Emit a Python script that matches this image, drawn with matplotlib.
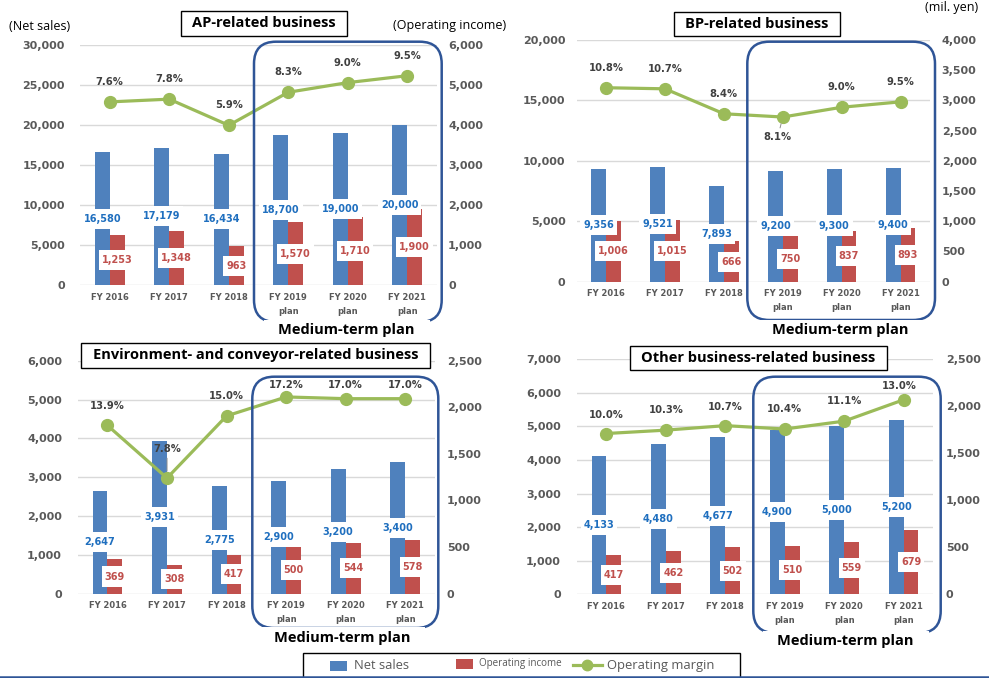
import matplotlib
matplotlib.use("Agg")
import matplotlib.pyplot as plt
from matplotlib.patches import FancyBboxPatch, Rectangle
from matplotlib.lines import Line2D
from matplotlib.path import Path
import numpy as np

# ---------------- data ----------------
years = ["FY 2016", "FY 2017", "FY 2018", "FY 2019\nplan", "FY 2020\nplan", "FY 2021\nplan"]

ap_sales = [16580, 17179, 16434, 18700, 19000, 20000]
ap_income = [1253, 1348, 963, 1570, 1710, 1900]
ap_margin = [7.6, 7.8, 5.9, 8.3, 9.0, 9.5]

bp_sales = [9356, 9521, 7893, 9200, 9300, 9400]
bp_income = [1006, 1015, 666, 750, 837, 893]
bp_margin = [10.8, 10.7, 8.4, 8.1, 9.0, 9.5]

env_sales = [2647, 3931, 2775, 2900, 3200, 3400]
env_income = [369, 308, 417, 500, 544, 578]
env_margin = [13.9, 7.8, 15.0, 17.2, 17.0, 17.0]

oth_sales = [4133, 4480, 4677, 4900, 5000, 5200]
oth_income = [417, 462, 502, 510, 559, 679]
oth_margin = [10.0, 10.3, 10.7, 10.4, 11.1, 13.0]

titles = ["AP-related business", "BP-related business",
          "Environment- and conveyor-related business", "Other business-related business"]
plan_label = "Medium-term plan"
legend_labels = ["Net sales", "Operating income", "Operating margin"]

# ---------------- style ----------------
W, H = 989, 678
BLUE = "#4F81BD"
RED = "#C0504D"
GREEN = "#9BBB59"
BLUE_TXT = "#1F6FBF"
RED_TXT = "#C0504D"
GRAY_TXT = "#595959"
PCT_TXT = "#404040"
FRAME = "#2F5597"
GRID = "#D9D9D9"
SANS = ["Open Sans", "DejaVu Sans"]

plt.rcParams["font.family"] = ["DejaVu Sans"]

fig = plt.figure(figsize=(W / 100, H / 100), dpi=100)


def fx(x):
    return x / W


def fy(y):
    return 1 - y / H


def inx(x):
    return x / 100


def iny(y):
    return (H - y) / 100


def padbox(padx, pady):
    def f(x0, y0, width, height, mutation_size):
        px = padx * mutation_size
        py = pady * mutation_size
        a, b = x0 - px, y0 - py
        c, d = x0 + width + px, y0 + height + py
        return Path([(a, b), (c, b), (c, d), (a, d), (a, b)], closed=True)
    return f


panels = [
    dict(sales=ap_sales, income=ap_income, margin=ap_margin, title=titles[0],
         rect=(80, 45, 437, 285), lmax=30000, lstep=5000, rmax=6000, rstep=1000,
         mlim=(-5.69, 11.73), lpad=11, rpad=8,
         offs=[(0, 20)] * 6, leader=[],
         tcenter=(264, 23.3), med=(254, 41.7, 441.7, 322), medtxt=(346.7, 330)),
    dict(sales=bp_sales, income=bp_income, margin=bp_margin, title=titles[1],
         rect=(576.7, 40, 930, 281.7), lmax=20000, lstep=5000, rmax=4000, rstep=500,
         mlim=(-7.08, 15.2), lpad=8, rpad=8.5,
         offs=[(0, 20), (0, 20), (0, 20), (-5, -20), (0, 20), (0, 20)], leader=[3],
         tcenter=(757, 24.2), med=(747.3, 41.7, 935, 320), medtxt=(840.7, 330)),
    dict(sales=env_sales, income=env_income, margin=env_margin, title=titles[2],
         rect=(77.7, 360.7, 435, 593.7), lmax=6000, lstep=1000, rmax=2500, rstep=500,
         mlim=(-5.6, 21.4), lpad=11.3, rpad=8.5,
         offs=[(0, 19.5), (0, 29), (0, 20), (0, 12), (0, 14), (0, 14)], leader=[1],
         tcenter=(255.3, 355.5), med=(252.3, 376.7, 438.3, 628), medtxt=(342.3, 637.7)),
    dict(sales=oth_sales, income=oth_income, margin=oth_margin, title=titles[3],
         rect=(576.7, 359.3, 933.3, 594.3), lmax=7000, lstep=1000, rmax=2500, rstep=500,
         mlim=(-4.3, 16.6), lpad=11.3, rpad=9,
         offs=[(0, 19), (0, 20), (0, 19), (0, 20), (0, 20), (-4, 14)], leader=[],
         tcenter=(758.5, 358), med=(753.3, 376.7, 940.7, 633), medtxt=(845.7, 641)),
]

bw = 0.25
x = np.arange(len(years))

for p in panels:
    x0, y0, x1, y1 = p["rect"]
    ax = fig.add_axes([fx(x0), fy(y1), (x1 - x0) / W, (y1 - y0) / H])
    ax2 = ax.twinx()
    ax3 = ax.twinx()

    ax.bar(x - bw / 2, p["sales"], width=bw, color=BLUE, zorder=2)
    ax2.bar(x + bw / 2, p["income"], width=bw, color=RED, zorder=2)
    ax3.plot(x, p["margin"], color=GREEN, lw=2.3, marker="o", ms=8.5, zorder=5,
             solid_capstyle="round")

    ax.set_xlim(-0.5, len(years) - 0.5)
    ax.set_ylim(0, p["lmax"])
    ax2.set_ylim(0, p["rmax"])
    ax3.set_ylim(*p["mlim"])
    ax.set_yticks(np.arange(0, p["lmax"] + 1, p["lstep"]))
    ax2.set_yticks(np.arange(0, p["rmax"] + 1, p["rstep"]))
    ax.set_yticklabels([f"{v:,}" for v in np.arange(0, p["lmax"] + 1, p["lstep"])])
    ax2.set_yticklabels([f"{v:,}" for v in np.arange(0, p["rmax"] + 1, p["rstep"])])
    ax.set_xticks(x)
    ax.set_xticklabels(years, linespacing=1.7)

    for a in (ax, ax2, ax3):
        for s in a.spines.values():
            s.set_visible(False)
        a.patch.set_visible(False)
    ax3.axis("off")
    ax.set_axisbelow(True)
    ax.yaxis.grid(True, color=GRID, lw=1.0)
    ax.tick_params(axis="y", length=0, pad=p["lpad"], labelsize=8, labelcolor=GRAY_TXT)
    ax2.tick_params(axis="y", length=0, pad=p["rpad"], labelsize=8, labelcolor=GRAY_TXT)
    ax.tick_params(axis="x", length=0, pad=5.5, labelsize=6, labelcolor=GRAY_TXT)
    for t in ax.get_yticklabels() + ax2.get_yticklabels() + ax.get_xticklabels():
        t.set_fontweight("bold")

    # data labels (drawn on top axes)
    for i in range(len(years)):
        ax3.text(x[i] - bw / 2, p["sales"][i] / 2, f"{p['sales'][i]:,}",
                 transform=ax.transData, ha="center", va="center", fontsize=7,
                 fontweight="bold", color=BLUE_TXT, zorder=4,
                 bbox=dict(boxstyle=padbox(0.3, 0.52), fc="white", ec="none"))
        ax3.text(x[i] + bw / 2, p["income"][i] / 2, f"{p['income'][i]:,}",
                 transform=ax2.transData, ha="center", va="center", fontsize=7,
                 fontweight="bold", color=RED_TXT, zorder=4,
                 bbox=dict(boxstyle=padbox(0.3, 0.52), fc="white", ec="none"))
        dx, dy = p["offs"][i]
        kw = {}
        if i in p["leader"]:
            kw["arrowprops"] = dict(arrowstyle="-", color="#8C8C8C", lw=0.7,
                                    shrinkA=1, shrinkB=5)
        ax3.annotate(f"{p['margin'][i]:.1f}%", (x[i], p["margin"][i]),
                     xytext=(dx, dy), textcoords="offset pixels",
                     ha="center", va="center", fontsize=7.2, fontweight="bold",
                     color=PCT_TXT, zorder=6, annotation_clip=False, **kw)

    # title box
    tx, ty = p["tcenter"]
    fig.text(fx(tx), fy(ty), p["title"], ha="center", va="center", fontsize=10.5,
             fontweight="bold", family=SANS, color="black", zorder=8,
             bbox=dict(boxstyle=padbox(0.8, 0.36), fc="white", ec="black", lw=1.0))

    # medium-term plan rounded frame
    mx0, my0, mx1, my1 = p["med"]
    fig.add_artist(FancyBboxPatch((inx(mx0), iny(my1)), (mx1 - mx0) / 100, (my1 - my0) / 100,
                                  boxstyle="round,pad=0,rounding_size=0.22",
                                  transform=fig.dpi_scale_trans, fill=False,
                                  ec=FRAME, lw=1.8, zorder=6))
    mtx, mty = p["medtxt"]
    fig.text(fx(mtx), fy(mty), plan_label, ha="center", va="center", fontsize=10.5,
             fontweight="bold", family=SANS, color="black", zorder=7,
             bbox=dict(boxstyle=padbox(1.0, 0.22), fc="white", ec="none"))

# unit labels
fig.text(fx(40), fy(26), "(Net sales)", ha="center", va="center", fontsize=9,
         family=SANS, color="black")
fig.text(fx(393), fy(26), "(Operating income)", ha="left", va="center", fontsize=9,
         family=SANS, color="black")
fig.text(fx(978), fy(8), "(mil. yen)", ha="right", va="center", fontsize=9,
         family=SANS, color="black")

# legend (manual)
fig.add_artist(Rectangle((inx(302.7), iny(681)), (740 - 302.7) / 100, (681 - 653.3) / 100,
                         transform=fig.dpi_scale_trans, fc="white", ec="black", lw=1.0,
                         zorder=8))
fig.add_artist(Rectangle((inx(330), iny(670.7)), 16.7 / 100, 10 / 100,
                         transform=fig.dpi_scale_trans, fc=BLUE, ec="none", zorder=9))
fig.add_artist(Rectangle((inx(456), iny(669.3)), 16.7 / 100, 10 / 100,
                         transform=fig.dpi_scale_trans, fc=RED, ec="none", zorder=9))
fig.add_artist(Line2D([inx(573), inx(601.7)], [iny(664.5), iny(664.5)],
                      transform=fig.dpi_scale_trans, color=GREEN, lw=2.3, zorder=9))
fig.add_artist(Line2D([inx(587.3)], [iny(664.5)], transform=fig.dpi_scale_trans,
                      color=GREEN, marker="o", ms=7.5, zorder=9))
fig.text(fx(354), fy(665.5), legend_labels[0], ha="left", va="center", fontsize=9.3,
         family=SANS, color=GRAY_TXT, zorder=10)
fig.text(fx(479), fy(663.5), legend_labels[1], ha="left", va="center", fontsize=7.1,
         family=SANS, color=GRAY_TXT, zorder=10)
fig.text(fx(606.7), fy(665.5), legend_labels[2], ha="left", va="center", fontsize=9.4,
         family=SANS, color=GRAY_TXT, zorder=10)

# bottom rule
fig.add_artist(Line2D([0, 1], [fy(677.2), fy(677.2)], color=FRAME, lw=1.8, zorder=11))

fig.savefig("out.png", dpi=100, facecolor="white")
